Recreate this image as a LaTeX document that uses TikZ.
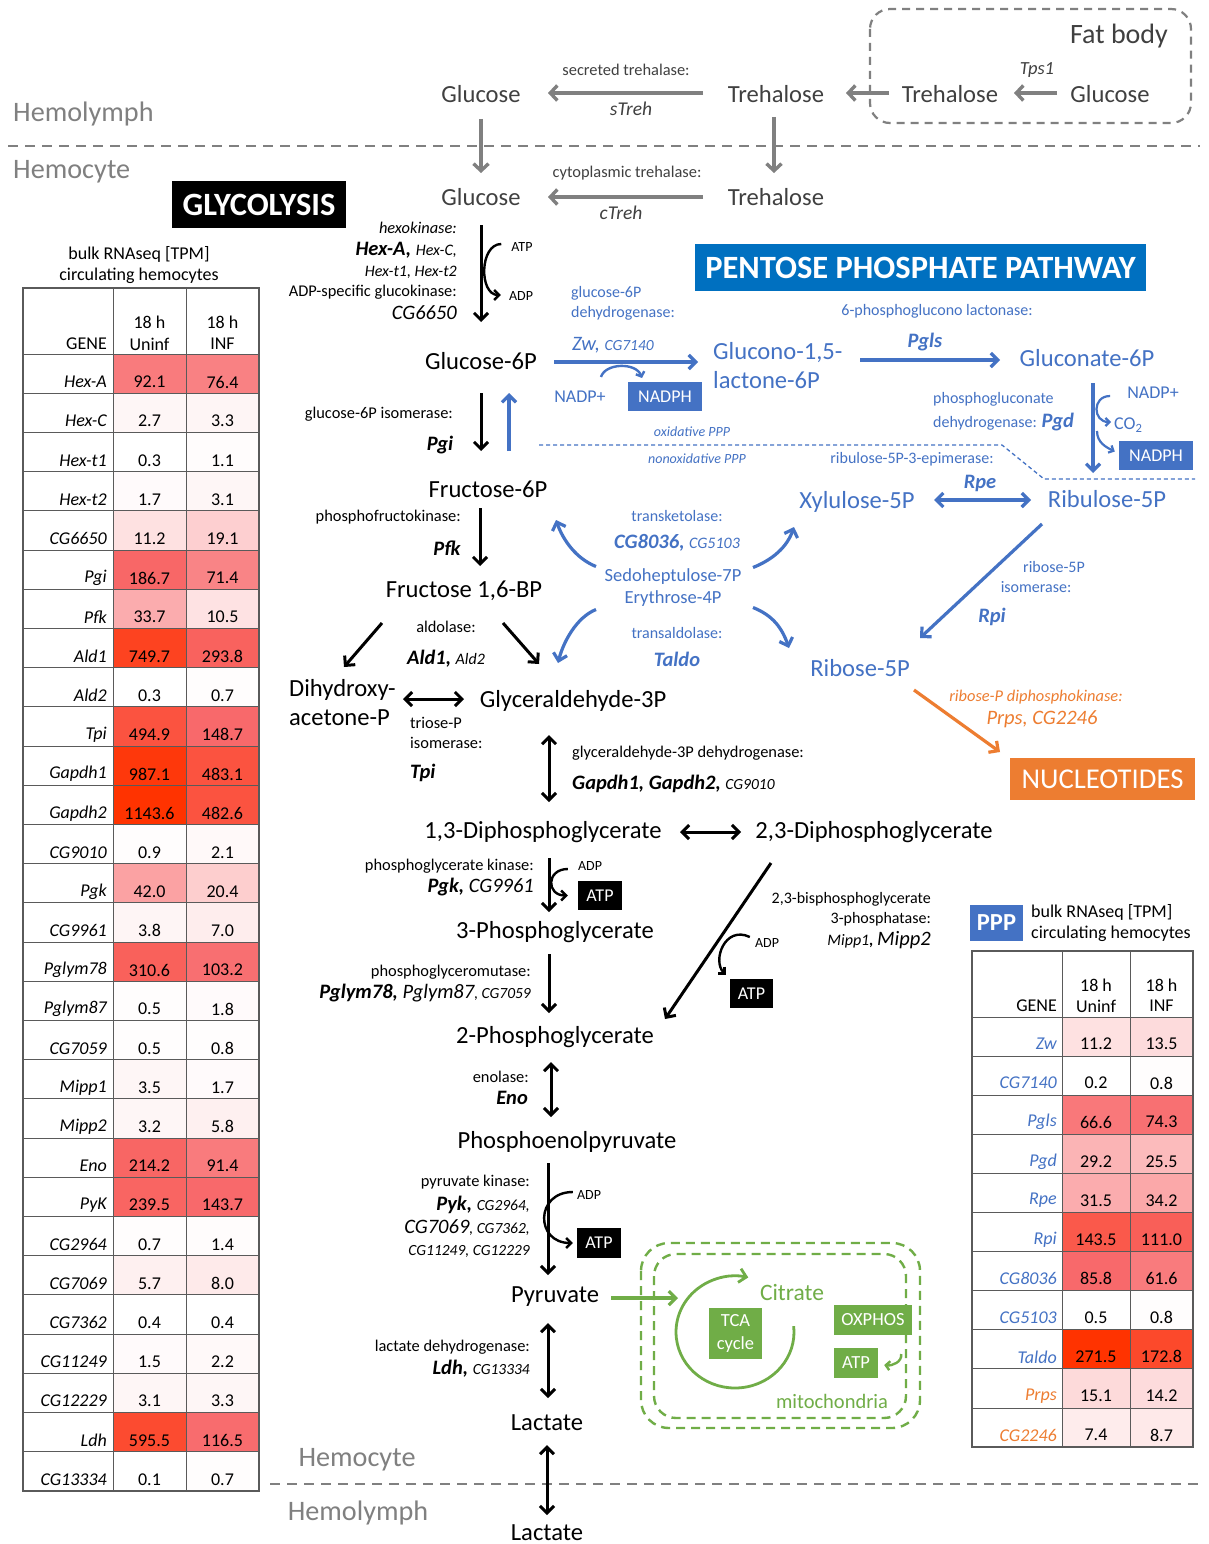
\documentclass[tikz,border=0pt]{standalone}
\usepackage{fontspec}
\setmainfont{Carlito}
\usetikzlibrary{arrows.meta,calc}
\definecolor{gtx}{HTML}{404040}
\definecolor{greg}{HTML}{808080}
\definecolor{pblue}{HTML}{4472C4}
\definecolor{pbox}{HTML}{0070C0}
\definecolor{ora}{HTML}{ED7D31}
\definecolor{grn}{HTML}{70AD47}
\definecolor{hs}{HTML}{F8696B}
\definecolor{hr}{HTML}{FF3300}
\definecolor{tline}{HTML}{5A5A5A}
\newcommand\fs[1]{\fontsize{#1}{#1}\selectfont}
\newcommand\bi[1]{{\bfseries\itshape #1}}
\newcommand\heat[2]{\ifnum#2>100 \pgfmathtruncatemacro\hq{#2-100}\colorlet{#1}{hr!\hq!hs}\else\colorlet{#1}{hs!#2!white}\fi}
\begin{document}
\begin{tikzpicture}[x=1pt,y=-1pt,
  every node/.style={inner sep=0pt},
  met/.style={font=\fs{24.6}},
  reg/.style={font=\fs{28.2}, text=greg},
  lab/.style={font=\fs{16.4}},
  plab/.style={font=\fs{16}, text=pblue},
  tabf/.style={font=\fs{18}},
  karr/.style={line width=3pt, -{Straight Barb[length=7pt,width=14pt]}},
  kdarr/.style={line width=3pt, {Straight Barb[length=7pt,width=14pt]}-{Straight Barb[length=7pt,width=14pt]}},
  sarr/.style={line width=2.4pt, -{Straight Barb[length=5pt,width=10pt]}},
  garr/.style={draw=greg, line width=3.4pt, -{Straight Barb[length=7pt,width=15pt]}},
  barr/.style={draw=pblue, line width=3.2pt, -{Straight Barb[length=7pt,width=14pt]}},
  bdarr/.style={draw=pblue, line width=3.2pt, {Straight Barb[length=7pt,width=14pt]}-{Straight Barb[length=7pt,width=14pt]}},
  oarr/.style={draw=ora, line width=3.2pt, -{Straight Barb[length=7pt,width=14pt]}},
  grarr/.style={draw=grn, line width=3.2pt, -{Straight Barb[length=7pt,width=14pt]}},
  divl/.style={draw=greg, line width=2.4pt, dash pattern=on 10pt off 7pt},
  blkbox/.style={fill=black, text=white, font=\fs{18}},
  bluebox/.style={fill=pblue, text=white, font=\fs{18}},
  grnbox/.style={fill=grn, text=white, font=\fs{18.5}}
]
\useasboundingbox (0,0) rectangle (1208,1544);
\fill[white] (0,0) rectangle (1208,1544);

% ---------------- compartments ----------------
\node[reg, anchor=west] (hl1) at (13,114) {Hemolymph};
\node[reg, anchor=west] (hc1) at (13,172) {Hemocyte};
\draw[divl] (8,146) -- (1200,146);
\node[reg] (hc2) at (357,1460) {Hemocyte};
\node[reg] (hl2) at (358,1513) {Hemolymph};
\draw[divl] (270,1484) -- (1200,1484);

% fat body
\draw[draw=greg, line width=2.2pt, dash pattern=on 8pt off 6pt, rounded corners=20pt] (870,9) rectangle (1191,123);
\node[font=\fs{28}, text=gtx] (fat) at (1119,36) {Fat body};
\node[met, text=gtx] (glcF) at (1110,94) {Glucose};
\node[met, text=gtx] (treF) at (950,94) {Trehalose};
\node[font=\fs{18.5}\itshape, text=gtx] (tps) at (1037,70) {Tps1};
\draw[garr] ($(glcF)+(-53,-1)$) -- ($(treF)+(64,-1)$);

% top trehalose / glucose
\node[met, text=gtx] (tre0) at (776,94) {Trehalose};
\node[met, text=gtx] (glc0) at (481,94) {Glucose};
\node[met, text=gtx] (tre) at (776,197) {Trehalose};
\node[met, text=gtx] (glc) at (481,197) {Glucose};
\draw[garr] ($(treF)+(-61,-1)$) -- ($(tre0)+(70,-1)$);
\draw[garr] ($(tre0)+(-73,-1)$) -- ($(glc0)+(67,-1)$);
\draw[garr] ($(tre)+(-73,0)$) -- ($(glc)+(67,0)$);
\draw[garr] ($(glc0)+(0,25)$) -- ($(glc)+(0,-24)$);
\draw[garr] ($(tre0)+(-2,23)$) -- ($(tre)+(-2,-24)$);
\node[font=\fs{16.4}, text=gtx] (sTl) at (626,70) {secreted trehalase:};
\node[font=\fs{19.5}\itshape, text=gtx] (sTg) at (631,109) {sTreh};
\node[font=\fs{16.4}, text=gtx] (cTl) at (627,173) {cytoplasmic trehalase:};
\node[font=\fs{19.5}\itshape, text=gtx] (cTg) at (621,213) {cTreh};

% ---------------- titles ----------------
\node[fill=black, text=white, font=\fs{32.5}\bfseries, minimum width=174pt, minimum height=47pt] (glyt) at (259,204.5) {GLYCOLYSIS};
\node[fill=pbox, text=white, font=\fs{32.5}\bfseries, minimum width=451pt, minimum height=47pt] (pppt) at (920.5,267.5) {PENTOSE PHOSPHATE PATHWAY};

% ---------------- glycolysis ----------------
\node[met] (g6p) at (481,361) {Glucose-6P};
\node[met] (f6p) at (488,489) {Fructose-6P};
\node[met] (f16) at (464,591) {Fructose 1,6-BP};
\node[font=\fontsize{24.6}{29}\selectfont, align=left, anchor=west] (dhap) at (289,702.5) {Dihydroxy-\\acetone-P};
\node[met] (ga3p) at (573,701) {Glyceraldehyde-3P};
\node[met] (dpg13) at (543,832) {1,3-Diphosphoglycerate};
\node[met] (dpg23) at (874,832) {2,3-Diphosphoglycerate};
\node[met] (pg3) at (555,932) {3-Phosphoglycerate};
\node[met] (pg2) at (555,1037) {2-Phosphoglycerate};
\node[met] (pep) at (567,1142) {Phosphoenolpyruvate};
\node[met] (pyr) at (555,1297) {Pyruvate};
\node[met] (lac1) at (547,1423) {Lactate};
\node[met] (lac2) at (547,1533) {Lactate};

% hexokinase
\node[anchor=east, font=\fs{16.4}\itshape] (hk1) at (457,228) {hexokinase:};
\node[anchor=east] (hk2) at (457,250) {\fs{20.5}\bi{Hex-A,} \fs{16}\itshape Hex-C,};
\node[anchor=east, font=\fs{16}\itshape] (hk3) at (457,272) {Hex-t1, Hex-t2};
\node[lab, anchor=east] (hk4) at (457,292) {ADP-specific glucokinase:};
\node[anchor=east, font=\fs{20.5}\itshape] (hk5) at (457,313) {CG6650};
\node[font=\fs{14}] (atp1) at (522,247) {ATP};
\node[font=\fs{14}] (adp1) at (521,296) {ADP};
\draw[karr] ($(glc)+(0,28)$) -- ($(g6p)+(0,-39)$);
\draw[sarr] ($(atp1.west)+(-10,-3)$) to[out=180,in=180,looseness=1.1] ($(adp1.west)+(-8,-1)$);

% Pgi
\node[lab, anchor=east] (pgi1) at (453,414) {glucose-6P isomerase:};
\node[font=\fs{20.5}] (pgi2) at (440,445) {\bi{Pgi}};
\draw[karr] ($(g6p)+(0,32)$) -- ($(f6p)+(-7,-38)$);
\draw[barr] ($(f6p)+(21,-38)$) -- ($(g6p)+(28,32)$);

% Pfk
\node[lab, anchor=east] (pfk1) at (461,517) {phosphofructokinase:};
\node[font=\fs{20.5}] (pfk2) at (447,548) {\bi{Pfk}};
\draw[karr] ($(f6p)+(-8,19)$) -- ($(f16)+(16,-25)$);

% aldolase
\node[lab] (ald1) at (446,627) {aldolase:};
\node (ald2) at (446,659) {\fs{20.5}\bi{Ald1,} \fs{16}\itshape Ald2};
\draw[karr] ($(f16)+(-82,32)$) -- ($(dhap.west)+(55,-35.5)$);
\draw[karr] ($(f16)+(39,32)$) -- ($(ga3p)+(-34,-37)$);

% Tpi
\draw[kdarr] ($(dhap.west)+(114,-3.5)$) -- ($(ga3p)+(-109,-2)$);
\node[lab, anchor=west] (tpi1) at (410,723) {triose-P};
\node[lab, anchor=west] (tpi2) at (410,743) {isomerase:};
\node[font=\fs{20.5}, anchor=west] (tpi3) at (410,773) {\bi{Tpi}};

% GAPDH
\draw[kdarr] ($(ga3p)+(-24,34)$) -- ($(dpg13)+(6,-30)$);
\node[lab, anchor=west] (gap1) at (572,753) {glyceraldehyde-3P dehydrogenase:};
\node[anchor=west] (gap2) at (572,784) {\fs{20.5}\bi{Gapdh1, Gapdh2,} \fs{15.5}\itshape CG9010};

\draw[kdarr] ($(dpg13)+(137,0)$) -- ($(dpg23)+(-133,0)$);

% Pgk
\draw[karr] ($(dpg13)+(6,26)$) -- ($(pg3)+(-6,-20)$);
\node[lab, anchor=east] (pgk1) at (534,866) {phosphoglycerate kinase:};
\node[anchor=east] (pgk2) at (534,887) {\fs{20.5}\bi{Pgk,} \itshape CG9961};
\node[font=\fs{14}] (adp2) at (590,866) {ADP};
\node[blkbox, minimum width=44pt, minimum height=29pt] (atpb2) at (600,895.5) {ATP};
\draw[sarr] ($(adp2.west)+(-10,3)$) to[out=180,in=180,looseness=2.1] ($(atpb2.west)+(-10,0)$);

% Pglym
\draw[karr] ($(pg3)+(-6,22)$) -- ($(pg2)+(-6,-24)$);
\node[lab, anchor=east] (pgm1) at (531,972) {phosphoglyceromutase:};
\node[anchor=east] (pgm2) at (531,993) {\fs{20.5}\bi{Pglym78,} \itshape Pglym87\fs{15.5}, CG7059};

% Mipp
\draw[karr] ($(dpg23)+(-103,31)$) -- ($(pg2)+(110,-18)$);
\node[font=\fs{16}, anchor=east] (mip1) at (931,899) {2,3-bisphosphoglycerate};
\node[font=\fs{16}, anchor=east] (mip2) at (931,919) {3-phosphatase:};
\node[anchor=east] (mip3) at (931,940) {\fs{16}\itshape Mipp1\bfseries, \mdseries\fs{20.5}Mipp2};
\node[font=\fs{14}] (adp4) at (767,943) {ADP};
\node[blkbox, minimum width=43pt, minimum height=29pt] (atpb4) at (751.5,993.5) {ATP};
\draw[sarr] ($(adp4.west)+(-5,-6)$) .. controls +(-25,-12) and +(-14,-14) .. ($(atpb4.north west)+(-4,-4)$);

% Eno
\draw[kdarr] ($(pg2)+(-4,25)$) -- ($(pep)+(-16,-25)$);
\node[lab, anchor=east] (eno1) at (529,1077) {enolase:};
\node[font=\fs{20.5}, anchor=east] (eno2) at (528,1098) {\bi{Eno}};

% PyK
\draw[karr] ($(pep)+(-19,21)$) -- ($(pyr)+(-7,-22)$);
\node[lab, anchor=east] (pk1) at (530,1182) {pyruvate kinase:};
\node[anchor=east] (pk2) at (530,1205) {\fs{20.5}\bi{Pyk,} \fs{15.5}\itshape CG2964,};
\node[anchor=east] (pk3) at (530,1228) {\fs{20.5}\itshape CG7069\fs{15.5}, CG7362,};
\node[anchor=east, font=\fs{15.5}\itshape] (pk4) at (530,1251) {CG11249, CG12229};
\node[font=\fs{14}] (adp3) at (589,1195) {ADP};
\node[blkbox, minimum width=44pt, minimum height=30pt] (atpb3) at (599,1243) {ATP};
\draw[sarr] ($(adp3.west)+(-4,-3)$) to[out=180,in=180,looseness=1.9] ($(atpb3.west)+(-4,0)$);

% Ldh
\draw[kdarr] ($(pyr)+(-7,26)$) -- ($(lac1)+(1,-25)$);
\node[lab, anchor=east] (ldh1) at (530,1347) {lactate dehydrogenase:};
\node[anchor=east] (ldh2) at (530,1369) {\fs{20.5}\bi{Ldh,} \fs{15.5}\itshape CG13334};
\draw[kdarr] ($(lac1)+(0,22)$) -- ($(lac2)+(0,-18)$);

% ---------------- mitochondria ----------------
\draw[draw=grn, line width=2.4pt, dash pattern=on 9pt off 6pt, rounded corners=28pt] (641,1243) rectangle (920,1428);
\draw[draw=grn, line width=2.4pt, dash pattern=on 9pt off 6pt, rounded corners=22pt] (654,1254) rectangle (906,1418);
\coordinate (tcac) at (735,1332);
\coordinate (tcain) at (678,1298);
\draw[grarr] ($(pyr)+(56,1)$) -- (tcain);
\draw[grarr, line width=2.8pt] (tcac) ++(-6:59 and 56) arc[start angle=-6, end angle=283, x radius=59, y radius=56];
\node[font=\fs{23.5}, text=grn] (cit) at (792,1292) {Citrate};
\node[grnbox, minimum width=53pt, minimum height=51pt, align=center, font=\fontsize{18.5}{23}\selectfont] (tca) at (735.5,1333.5) {TCA\\cycle};
\node[grnbox, minimum width=78pt, minimum height=30pt] (oxp) at (873,1320) {OXPHOS};
\node[grnbox, minimum width=44pt, minimum height=30pt] (atpm) at (856,1363) {ATP};
\draw[draw=grn, line width=2.4pt, -{Straight Barb[length=4pt,width=9pt]}] ($(atpm.east)+(23,-9)$) .. controls +(1,8) and +(8,1) .. ($(atpm.east)+(6,2)$);
\node[font=\fs{20.5}, text=grn] (mito) at (832,1401) {mitochondria};

% ---------------- PPP ----------------
\node[plab, anchor=west] (zw1) at (571,293) {glucose-6P};
\node[plab, anchor=west] (zw2) at (571,313) {dehydrogenase:};
\node[anchor=west, text=pblue] (zw3) at (572,345) {\fs{20.5}\itshape Zw, \fs{15.5}CG7140};
\node[font=\fontsize{24.6}{29}\selectfont, text=pblue, align=left, anchor=west] (glac) at (713,365.5) {Glucono-1,5-\\lactone-6P};
\draw[barr] ($(g6p)+(73,1)$) -- ($(glac.west)+(-15,-3.5)$);
\node[font=\fs{18}, text=pblue] (nadp1) at (580,397) {NADP+};
\node[bluebox, minimum width=74pt, minimum height=29pt] (nadph1) at (665,396.5) {NADPH};
\draw[draw=pblue, line width=2.4pt, -{Straight Barb[length=4pt,width=9pt]}] ($(nadp1)+(21,-20)$) .. controls +(4,-14) and +(-6,-16) .. ($(nadph1)+(-23,-18.5)$);

\node[plab] (pgl1) at (937,311) {6-phosphoglucono lactonase:};
\node[font=\fs{20.5}, text=pblue] (pgl2) at (925,342) {\bi{Pgls}};
\node[met, text=pblue] (gnt) at (1087,358) {Gluconate-6P};
\draw[barr] ($(glac.west)+(147,-5.5)$) -- ($(gnt)+(-87,2)$);

\node[plab, anchor=west] (pgd1) at (933,399) {phosphogluconate};
\node[anchor=west, text=pblue] (pgd2) at (933,422) {\fs{16}dehydrogenase: \fs{20.5}\bi{Pgd}};
\node[met, text=pblue] (ru5p) at (1107,499) {Ribulose-5P};
\draw[barr] ($(gnt)+(6,25)$) -- ($(ru5p)+(-14,-26)$);
\node[font=\fs{18}, text=pblue] (nadp2) at (1153,393) {NADP+};
\node[font=\fs{18}, text=pblue, anchor=west] (co2) at (1114,425) {CO\textsubscript{2}};
\node[bluebox, minimum width=74pt, minimum height=29pt] (nadph2) at (1156,455.5) {NADPH};
\draw[draw=pblue, line width=2.2pt, -{Straight Barb[length=4pt,width=8pt]}] ($(nadp2.west)+(-17,3)$) to[out=180,in=180,looseness=1.8] ($(co2.west)+(-3,-3)$);
\draw[draw=pblue, line width=2.2pt, -{Straight Barb[length=4pt,width=8pt]}] ($(co2.west)+(-17,6)$) .. controls +(0,12) and +(-8,-4) .. ($(nadph2.west)+(-4,-4)$);

% oxidative / nonoxidative boundary
\draw[draw=pblue, line width=1.3pt, dash pattern=on 4pt off 3pt] (539,445) -- (1002,445) -- (1044,479) -- (1195,479);
\node[font=\fs{14}\itshape, text=pblue] (oxl) at (692,432) {oxidative PPP};
\node[font=\fs{14}\itshape, text=pblue] (noxl) at (697,459) {nonoxidative PPP};

\node[met, text=pblue] (xu5p) at (857,502) {Xylulose-5P};
\node[plab] (rpe1) at (912,459) {ribulose-5P-3-epimerase:};
\node[font=\fs{20.5}, text=pblue] (rpe2) at (980,483) {\bi{Rpe}};
\draw[bdarr] ($(xu5p)+(77,-2)$) -- ($(ru5p)+(-76,1)$);

\node[met, text=pblue] (r5p) at (860,668) {Ribose-5P};
\draw[barr] ($(ru5p)+(-65,25)$) -- ($(r5p)+(60,-30)$);
\node[plab] (rpi1) at (1054,567) {ribose-5P};
\node[plab] (rpi2) at (1036,587) {isomerase:};
\node[font=\fs{20.5}, text=pblue] (rpi3) at (992,617) {\bi{Rpi}};

% transketolase / transaldolase
\node[font=\fontsize{18.5}{22}\selectfont, text=pblue, align=center] (sedo) at (673,587.5) {Sedoheptulose-7P\\Erythrose-4P};
\node[plab] (tk1) at (677,516) {transketolase:};
\node[text=pblue] (tk2) at (677,543) {\fs{20.5}\bi{CG8036,} \fs{16}\itshape CG5103};
\node[plab] (ta1) at (677,633) {transaldolase:};
\node[font=\fs{20.5}, text=pblue] (ta2) at (677,659) {\bi{Taldo}};
\draw[barr] ($(sedo)+(-77,-21)$) .. controls +(-20,-8) and +(7,20) .. ($(f6p)+(68,31)$);
\draw[barr] ($(sedo)+(-77,22)$) .. controls +(-20,8) and +(5,-20) .. ($(ga3p)+(-15,-38)$);
\draw[barr] ($(sedo)+(80,-20)$) .. controls +(20,-8) and +(-7,20) .. ($(xu5p)+(-63,25)$);
\draw[barr] ($(sedo)+(80,20)$) .. controls +(20,8) and +(-7,-20) .. ($(r5p)+(-71,-20)$);

% nucleotides
\node[fill=ora, text=white, font=\fs{28.7}, minimum width=185pt, minimum height=42pt] (nuc) at (1102.5,779) {NUCLEOTIDES};
\draw[oarr] ($(r5p)+(54,22)$) -- ($(nuc)+(-102.5,-27)$);
\node[font=\fs{16.4}\itshape, text=ora] (prs1) at (1036,697) {ribose-P diphosphokinase:};
\node[font=\fs{20.5}\itshape, text=ora] (prs2) at (1042,719) {Prps, CG2246};

% ---------------- left table ----------------
\node[font=\fs{18}] (lt1) at (139,254) {bulk RNAseq [TPM]};
\node[font=\fs{18}] (lt2) at (139,276) {circulating hemocytes};
\foreach \g/\ua/\va/\cu/\cv [count=\rk from 0] in {Hex-A/92.1/76.4/88/84, Hex-C/2.7/3.3/6/7, Hex-t1/0.3/1.1/0/2, Hex-t2/1.7/3.1/3/6, CG6650/11.2/19.1/20/32, Pgi/186.7/71.4/104/82, Pfk/33.7/10.5/55/19, Ald1/749.7/293.8/170/112, Ald2/0.3/0.7/0/1, Tpi/494.9/148.7/140/100, Gapdh1/987.1/483.1/190/140, Gapdh2/1143.6/482.6/200/140, CG9010/0.9/2.1/1/4, Pgk/42.0/20.4/62/33, CG9961/3.8/7.0/7/12, Pglym78/310.6/103.2/115/96, Pglym87/0.5/1.8/1/3, CG7059/0.5/0.8/1/1, Mipp1/3.5/1.7/6/3, Mipp2/3.2/5.8/6/10, Eno/214.2/91.4/106/88, PyK/239.5/143.7/108/100, CG2964/0.7/1.4/1/2, CG7069/5.7/8.0/10/14, CG7362/0.4/0.4/0/0, CG11249/1.5/2.2/3/4, CG12229/3.1/3.3/6/6, Ldh/595.5/116.5/155/98, CG13334/0.1/0.7/0/1}{
  \heat{cua}{\cu}\heat{cva}{\cv}
  \fill[cua] (113,354+39.2*\rk) rectangle (186,354+39.2*\rk+39.2);
  \fill[cva] (186,354+39.2*\rk) rectangle (259,354+39.2*\rk+39.2);
  \draw[tline, line width=1pt] (23,354+39.2*\rk) -- (259,354+39.2*\rk);
  \node[tabf, anchor=east] (lg\rk) at (107,354+39.2*\rk+28) {\itshape\g};
  \node[tabf] (lu\rk) at (149.5,354+39.2*\rk+28) {\ua};
  \node[tabf] (li\rk) at (222.5,354+39.2*\rk+28) {\va};
}
\draw[tline, line width=1pt] (113,288) -- (113,1491);
\draw[tline, line width=1pt] (186,288) -- (186,1491);
\draw[tline, line width=1.6pt] (23,288) rectangle (259,1491);
\node[tabf] (lh1) at (149.5,322) {18 h};
\node[tabf] (lh2) at (149.5,344) {Uninf};
\node[tabf] (lh3) at (222.5,322) {18 h};
\node[tabf] (lh4) at (222.5,344) {INF};
\node[tabf, anchor=east] (lh5) at (107,344) {GENE};

% ---------------- right table ----------------
\node[fill=pblue, text=white, font=\fs{24.5}\bfseries, minimum width=53pt, minimum height=36pt] (pppb) at (996.5,923) {PPP};
\node[font=\fs{18}, anchor=west] (rt1) at (1031,912) {bulk RNAseq [TPM]};
\node[font=\fs{18}, anchor=west] (rt2) at (1031,934) {circulating hemocytes};
\foreach \g/\ua/\va/\cu/\cv/\tc [count=\rk from 0] in {Zw/11.2/13.5/20/24/pblue, CG7140/0.2/0.8/0/1/pblue, Pgls/66.6/74.3/90/95/pblue, Pgd/29.2/25.5/50/45/pblue, Rpe/31.5/34.2/55/58/pblue, Rpi/143.5/111.0/130/118/pblue, CG8036/85.8/61.6/100/88/pblue, CG5103/0.5/0.8/0/1/pblue, Taldo/271.5/172.8/200/160/pblue, Prps/15.1/14.2/25/24/ora, CG2246/7.4/8.7/13/15/ora}{
  \heat{cua}{\cu}\heat{cva}{\cv}
  \fill[cua] (1062,1017+39.1*\rk) rectangle (1130,1017+39.1*\rk+39.1);
  \fill[cva] (1130,1017+39.1*\rk) rectangle (1193,1017+39.1*\rk+39.1);
  \draw[tline, line width=1pt] (972,1017+39.1*\rk) -- (1193,1017+39.1*\rk);
  \node[tabf, anchor=east, text=\tc] (rg\rk) at (1057,1017+39.1*\rk+27) {\itshape\g};
  \node[tabf] (ru\rk) at (1096,1017+39.1*\rk+27) {\ua};
  \node[tabf] (ri\rk) at (1161.5,1017+39.1*\rk+27) {\va};
}
\draw[tline, line width=1pt] (1062,951) -- (1062,1447);
\draw[tline, line width=1pt] (1130,951) -- (1130,1447);
\draw[tline, line width=1.6pt] (972,951) rectangle (1193,1447);
\node[tabf] (rh1) at (1096,985) {18 h};
\node[tabf] (rh2) at (1096,1006) {Uninf};
\node[tabf] (rh3) at (1161.5,985) {18 h};
\node[tabf] (rh4) at (1161.5,1006) {INF};
\node[tabf, anchor=east] (rh5) at (1057,1006) {GENE};
\end{tikzpicture}
\end{document}
